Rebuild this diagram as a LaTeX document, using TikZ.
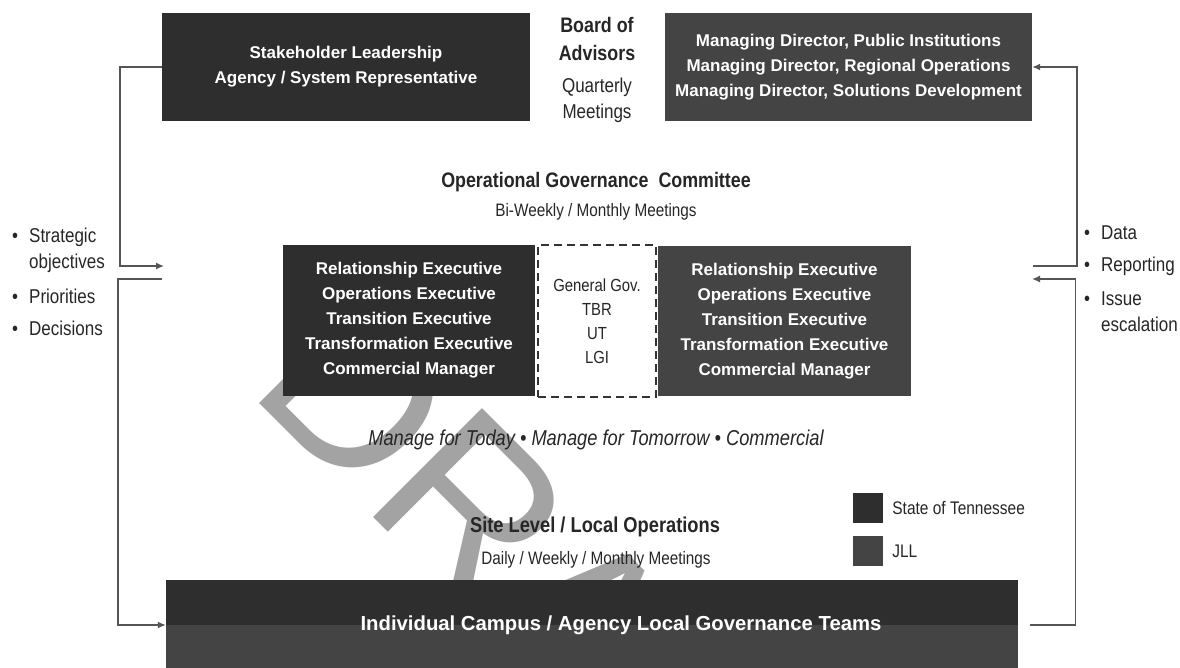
\documentclass[tikz,border=0pt]{standalone}
\usepackage{fontspec}
\setmainfont{Liberation Sans}
\newfontfamily\narrowfont{Liberation Sans}[FakeStretch=0.85]
\usetikzlibrary{arrows.meta,positioning}
\definecolor{stategray}{HTML}{2E2E2E}
\definecolor{jllgray}{HTML}{444444}
\definecolor{linegray}{HTML}{555555}
\definecolor{markgray}{HTML}{A3A3A3}
\newcommand{\bul}{\makebox[17pt][l]{\textbullet}}

\begin{document}
\begin{tikzpicture}[
  x=1pt, y=-1pt,
  box/.style={draw=none,text=white,align=center,inner sep=0pt,font=\bfseries\fontsize{17}{25}\selectfont},
  state/.style={box,fill=stategray},
  jll/.style={box,fill=jllgray},
  lbl/.style={text=black!85,align=center,inner sep=0pt,font=\narrowfont\fontsize{20}{26}\selectfont},
  head/.style={lbl,font=\narrowfont\bfseries\fontsize{21}{28}\selectfont},
  sub/.style={lbl,font=\narrowfont\fontsize{18}{24}\selectfont},
  lst/.style={lbl,align=left,anchor=west},
  link/.style={draw=linegray,line width=1.4pt},
  arr/.style={link,-{Latex[length=8pt,width=7pt]}}
]
\useasboundingbox (0,0) rectangle (1180,667);

% draft stamp behind everything
\begin{scope}
  \clip (0,0) rectangle (1180,667);
  \node[text=markgray,rotate=-45,anchor=base west,inner sep=0pt,
        font=\fontsize{224}{224}\selectfont] (stamp) at (246,390) {DRAFT};
\end{scope}

% board of advisors
\node[state,minimum width=368pt,minimum height=108pt] (stake) at (346,67)
  {Stakeholder Leadership\\Agency / System Representative};
\node[jll,minimum width=367pt,minimum height=108pt] (mgmt) at (848.5,67)
  {Managing Director, Public Institutions\\Managing Director, Regional Operations\\Managing Director, Solutions Development};
\node[head] (board) at (597,39) {Board of\\Advisors};
\node[lbl] (quart) at (597,100) {Quarterly\\Meetings};

% operational governance committee
\node[head] (ogc) at (596,182) {Operational Governance\ \ Committee};
\node[sub] (ogcmeet) at (596,212) {Bi-Weekly / Monthly Meetings};
\node[state,minimum width=252pt,minimum height=151pt] (stmid) at (409,320.5)
  {Relationship Executive\\Operations Executive\\Transition Executive\\Transformation Executive\\Commercial Manager};
\node[lbl,draw=black!80,line width=1.5pt,dash pattern=on 8pt off 5pt,fill=white,
      minimum width=118pt,minimum height=152pt,font=\narrowfont\fontsize{17.5}{24}\selectfont] (agency) at (597,321)
  {General Gov.\\TBR\\UT\\LGI};
\node[jll,minimum width=253pt,minimum height=150pt] (jllmid) at (784.5,321)
  {Relationship Executive\\Operations Executive\\Transition Executive\\Transformation Executive\\Commercial Manager};
\node[lbl,font=\narrowfont\itshape\fontsize{21.5}{24}\selectfont] (focus) at (596,440)
  {Manage for Today \textbullet{} Manage for Tomorrow \textbullet{} Commercial};

% site level
\node[head,font=\narrowfont\bfseries\fontsize{21.5}{28}\selectfont] (site) at (595,527) {Site Level / Local Operations};
\node[sub] (sitemeet) at (596,560) {Daily / Weekly / Monthly Meetings};
\node[state,minimum width=852pt,minimum height=90pt,
      path picture={\fill[jllgray] (path picture bounding box.west) rectangle (path picture bounding box.south east);}]
  (camp) at (592,625) {};
\node[box,font=\bfseries\fontsize{20.3}{24}\selectfont] (camplbl) at (621,625)
  {Individual Campus / Agency Local Governance Teams};

% legend
\node[state,minimum size=30pt] (keyst) at (868,508) {};
\node[jll,minimum size=30pt,below=13pt of keyst] (keyjll) {};
\node[sub,font=\narrowfont\fontsize{18.2}{22}\selectfont,right=9pt of keyst] (keysttxt) {State of Tennessee};
\node[sub,font=\narrowfont\fontsize{18.2}{22}\selectfont,right=9pt of keyjll] (keyjlltxt) {JLL};

% side notes
\node[lst] (strat) at (12,250) {\bul Strategic\\\hspace*{17pt}objectives};
\node[lst] (prio) at (12,296) {\bul Priorities};
\node[lst] (deci) at (12,328) {\bul Decisions};
\node[lst] (data) at (1084,233) {\bul Data};
\node[lst] (repo) at (1084,266) {\bul Reporting};
\node[lst] (issue) at (1084,312) {\bul Issue\\\hspace*{17pt}escalation};

% loops
\coordinate (inl) at (164,266);
\coordinate (outl) at (162,279);
\coordinate (inr) at (1032,279);
\coordinate (outr) at (1033,266);
\draw[arr] (stake.west) -- ++(-42,0) |- (inl);
\draw[arr] (outl) -- ++(-44,0) |- (camp.west);
\draw[arr] ([xshift=12pt]camp.east) -- ++(45,0) |- (inr);
\draw[arr] (outr) -- ++(44,0) |- (mgmt.east);
\end{tikzpicture}
\end{document}
